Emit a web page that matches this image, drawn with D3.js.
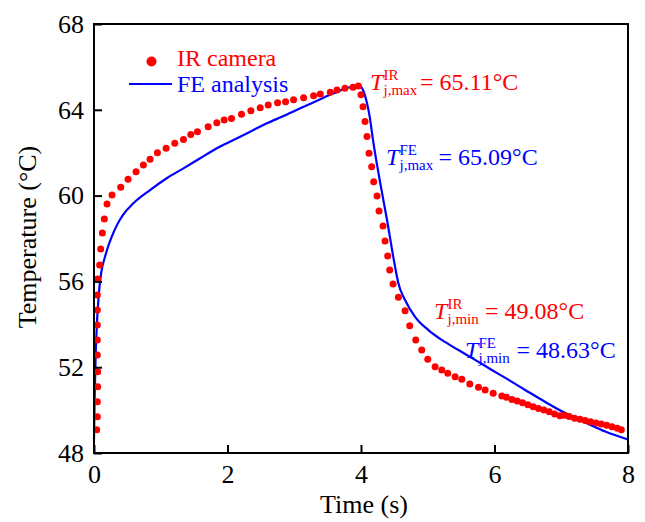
<!DOCTYPE html>
<html>
<head>
<meta charset="utf-8">
<script src="https://cdn.jsdelivr.net/npm/d3@7"></script>
<style>
  html, body { margin: 0; padding: 0; background: #ffffff; }
  svg { display: block; }
  text { font-family: "Liberation Serif", "Times New Roman", serif; }
</style>
</head>
<body>
<svg id="chart" width="645" height="522"></svg>
<script>
// Junction temperature over one power cycle: IR camera measurement vs FE analysis
const irTime = [
  0.04, 0.05, 0.05, 0.055, 0.055, 0.05, 0.05, 0.05, 0.05, 0.05, 0.055,
  0.085, 0.10, 0.125, 0.155, 0.195, 0.27, 0.40, 0.51, 0.63, 0.74, 0.84,
  0.95, 1.08, 1.21, 1.34, 1.45, 1.55, 1.71, 1.84, 1.95, 2.06, 2.21, 2.35,
  2.49, 2.61, 2.75, 2.87, 2.99, 3.14, 3.29, 3.39, 3.54, 3.64, 3.76, 3.88,
  3.96, 4.00, 4.03, 4.06, 4.09, 4.12, 4.16, 4.19, 4.24, 4.27, 4.33, 4.36,
  4.40, 4.43, 4.48, 4.56, 4.66, 4.73, 4.82, 4.91, 5.00, 5.11, 5.21, 5.30,
  5.41, 5.51, 5.63, 5.76, 5.86, 5.98, 6.11, 6.18, 6.26, 6.34, 6.42, 6.50,
  6.58, 6.66, 6.74, 6.82, 6.90, 6.98, 7.05, 7.12, 7.20, 7.28, 7.36, 7.44,
  7.52, 7.60, 7.68, 7.76, 7.84, 7.90
];
const irTemp = [
  49.08, 49.69, 50.39, 51.09, 51.79, 52.57, 53.27, 53.97, 54.67, 55.37, 56.11,
  56.76, 57.51, 58.26, 58.91, 59.61, 60.03, 60.39, 60.76, 61.11, 61.43, 61.69,
  62.00, 62.21, 62.44, 62.62, 62.85, 62.98, 63.21, 63.40, 63.52, 63.60, 63.79, 63.96,
  64.10, 64.22, 64.33, 64.38, 64.47, 64.56, 64.66, 64.74, 64.82, 64.92, 65.00, 65.05,
  65.11, 64.70, 64.14, 63.45, 62.75, 61.97, 61.35, 60.65, 59.98, 59.28, 58.58, 57.88,
  57.18, 56.53, 55.88, 55.26, 54.63, 53.93, 53.27, 52.80, 52.37, 52.02, 51.87, 51.72,
  51.56, 51.44, 51.22, 51.06, 50.94, 50.78, 50.66, 50.60, 50.50, 50.42, 50.34, 50.25,
  50.16, 50.08, 50.00, 49.92, 49.82, 49.74, 49.76, 49.70, 49.62, 49.57, 49.51, 49.46,
  49.40, 49.35, 49.29, 49.22, 49.15, 49.08
];

const feTime = [
  0.00, 0.01, 0.025, 0.045, 0.065, 0.085, 0.115, 0.165, 0.214, 0.265, 0.34,
  0.44, 0.59, 0.84, 1.09, 1.34, 1.59, 1.84, 2.09, 2.34, 2.59, 2.84, 3.09,
  3.34, 3.59, 3.84, 3.99, 4.03, 4.09, 4.13, 4.18, 4.28, 4.39, 4.51, 4.56,
  4.66, 4.81, 5.01, 5.21, 5.46, 5.71, 5.96, 6.20, 6.46, 6.76, 7.06, 7.36,
  7.66, 8.00
];
const feTemp = [
  48.63, 50.60, 52.60, 54.10, 55.10, 55.85, 56.53, 57.15, 57.65, 58.08, 58.60,
  59.12, 59.64, 60.26, 60.81, 61.27, 61.74, 62.21, 62.59, 62.98, 63.37, 63.71, 64.07,
  64.42, 64.77, 65.05, 65.09, 64.92, 64.30, 63.68, 62.59, 60.73, 58.86, 56.69, 55.91,
  55.13, 54.35, 53.73, 53.27, 52.80, 52.34, 51.87, 51.43, 50.94, 50.38, 49.86, 49.42,
  49.00, 48.63
];

const xTicks = [0, 2, 4, 6, 8];
const yTicks = [48, 52, 56, 60, 64, 68];

const legendLabels = ["IR camera", "FE analysis"];
const xTitle = "Time (s)";
const yTitle = "Temperature (°C)";

const RED = "#ff0000";
const BLUE = "#0000ff";

const svg = d3.select("#chart");
const plot = { left: 94, right: 628, top: 24, bottom: 453 };

const x = d3.scaleLinear().domain([0, 8]).range([plot.left, plot.right]);
const y = d3.scaleLinear().domain([48, 68]).range([plot.bottom, plot.top]);

const irData = irTime.map((t, i) => ({ t, v: irTemp[i] }));
const feData = feTime.map((t, i) => ({ t, v: feTemp[i] }));

// FE simulation curve
svg.append("path")
  .datum(feData)
  .attr("fill", "none")
  .attr("stroke", BLUE)
  .attr("stroke-width", 2.2)
  .attr("stroke-linejoin", "round")
  .attr("d", d3.line().x(d => x(d.t)).y(d => y(d.v)).curve(d3.curveMonotoneX));

// IR camera measurements
svg.append("g")
  .selectAll("circle")
  .data(irData)
  .join("circle")
  .attr("cx", d => x(d.t))
  .attr("cy", d => y(d.v))
  .attr("r", 3.5)
  .attr("fill", RED);

// Axes with inward ticks
const xAxis = d3.axisBottom(x).tickValues(xTicks).tickSize(-8).tickPadding(12).tickFormat(d3.format("d"));
const yAxis = d3.axisLeft(y).tickValues(yTicks).tickSize(-8).tickPadding(10).tickFormat(d3.format("d"));

const gx = svg.append("g").attr("transform", `translate(0,${plot.bottom})`).call(xAxis);
const gy = svg.append("g").attr("transform", `translate(${plot.left},0)`).call(yAxis);

[gx, gy].forEach(g => {
  g.select(".domain").remove();
  g.selectAll(".tick line").attr("stroke", "#000").attr("stroke-width", 2);
  g.selectAll(".tick text")
    .attr("fill", "#000")
    .style("font-family", "'Liberation Serif', serif")
    .style("font-size", "26px");
});

// Plot frame
svg.append("rect")
  .attr("x", plot.left)
  .attr("y", plot.top)
  .attr("width", plot.right - plot.left)
  .attr("height", plot.bottom - plot.top)
  .attr("fill", "none")
  .attr("stroke", "#000")
  .attr("stroke-width", 2);

// Axis titles
svg.append("text")
  .attr("x", 364)
  .attr("y", 513)
  .attr("text-anchor", "middle")
  .style("font-size", "26px")
  .text(xTitle);

svg.append("text")
  .attr("transform", "translate(36,237) rotate(-90)")
  .attr("text-anchor", "middle")
  .style("font-size", "26px")
  .text(yTitle);

// Legend
const legend = svg.append("g");
legend.append("circle").attr("cx", 151.5).attr("cy", 61.5).attr("r", 5).attr("fill", RED);
legend.append("text").attr("x", 177).attr("y", 66).attr("fill", RED)
  .style("font-size", "24px").text(legendLabels[0]);
legend.append("line").attr("x1", 129).attr("x2", 172).attr("y1", 84).attr("y2", 84)
  .attr("stroke", BLUE).attr("stroke-width", 2.2);
legend.append("text").attr("x", 177).attr("y", 92).attr("fill", BLUE)
  .style("font-size", "24px").text(legendLabels[1]);

// Peak / valley annotations built from the plotted series
const fmt = v => `= ${v.toFixed(2)}°C`;
const notes = [
  { x: 370, y: 90,  sup: "IR", sub: "j,max", value: d3.max(irTemp), color: RED,  valueX: 420 },
  { x: 386, y: 165, sup: "FE", sub: "j,max", value: d3.max(feTemp), color: BLUE, valueX: 438.5 },
  { x: 434, y: 319, sup: "IR", sub: "j,min", value: d3.min(irTemp), color: RED,  valueX: 485 },
  { x: 465, y: 358, sup: "FE", sub: "j,min", value: d3.min(feTemp), color: BLUE, valueX: 516.5 }
];

notes.forEach(n => {
  const t = svg.append("text")
    .attr("x", n.x)
    .attr("y", n.y)
    .attr("fill", n.color)
    .style("font-size", "24px");
  t.append("tspan").style("font-style", "italic").text("T");
  t.append("tspan")
    .attr("x", n.x + 13.5).attr("y", n.y - 10)
    .style("font-size", "15px").text(n.sup);
  t.append("tspan")
    .attr("x", n.x + 13.5).attr("y", n.y + 5)
    .style("font-size", "15px").text(n.sub);
  t.append("tspan")
    .attr("x", n.valueX).attr("y", n.y)
    .text(fmt(n.value));
});
</script>
</body>
</html>
